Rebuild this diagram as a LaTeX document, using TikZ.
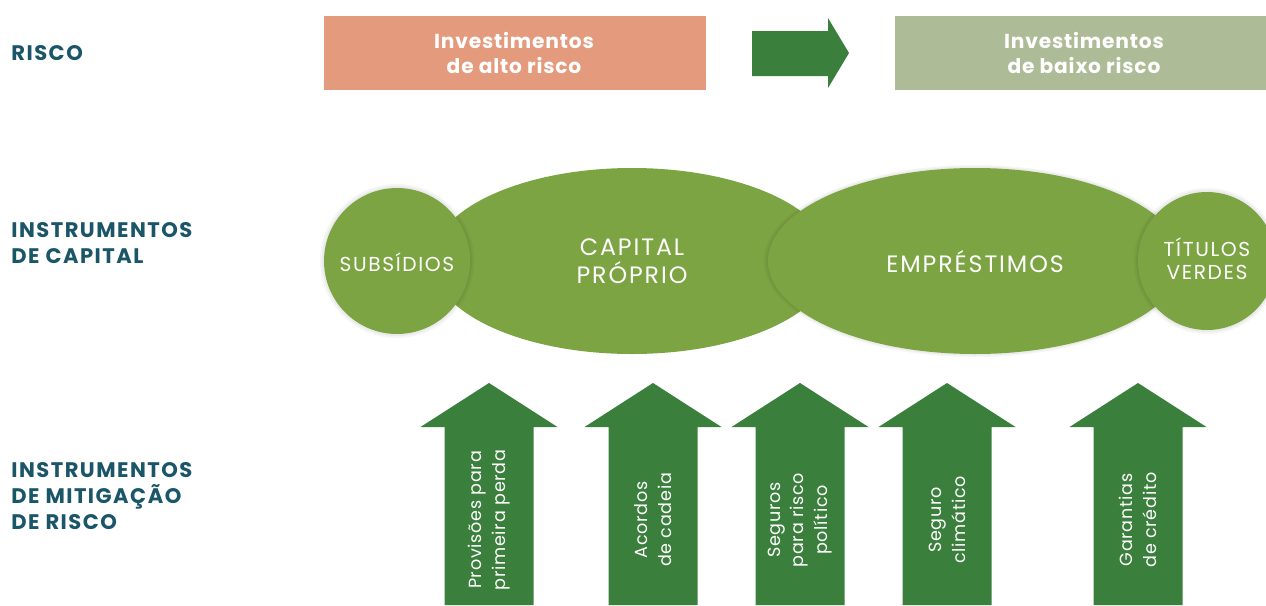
\documentclass[tikz,border=0pt]{standalone}
\usepackage{fontspec}
\usepackage{xcolor}
\usepackage{tikz}
\setmainfont{Poppins}
\newfontfamily\spacedfont[LetterSpace=8]{Poppins}
\newfontfamily\boxfont[LetterSpace=4]{Poppins}
\newfontfamily\headfont[LetterSpace=7]{Poppins}

\definecolor{salmon}{HTML}{E49A7D}
\definecolor{sage}{HTML}{ADBB96}
\definecolor{darkgreen}{HTML}{3B7F3D}
\definecolor{leaf}{HTML}{7CA443}
\definecolor{petrol}{HTML}{1A5668}

\begin{document}
\begin{tikzpicture}[x=0.02cm,y=-0.02cm]
\tikzstyle{every node}+=[inner sep=0pt]
\tikzstyle{rowhead}=[anchor=west, align=left, text=petrol, font=\headfont\bfseries\fontsize{12}{14.7}\selectfont]
\tikzstyle{boxtext}=[align=center, text=white, font=\boxfont\bfseries\fontsize{11.5}{14}\selectfont]
\tikzstyle{ovaltext}=[align=center, text=white, font=\spacedfont\fontsize{13.5}{16}\selectfont]
\tikzstyle{smalloval}=[align=center, text=white, font=\spacedfont\fontsize{11.5}{13}\selectfont]
\tikzstyle{arrowtext}=[align=center, text=white, rotate=90, font=\boxfont\fontsize{10}{13.6}\selectfont]
\tikzstyle{halo}=[fill=black, fill opacity=0.04]
\useasboundingbox (0,0) rectangle (1266,605);

% row titles
\draw (11,53) node[rowhead] (risco) {RISCO};
\draw (11,243) node[rowhead] (capital) {INSTRUMENTOS\\DE CAPITAL};
\draw (11,496) node[rowhead] (mitigacao) {INSTRUMENTOS\\DE MITIGAÇÃO\\DE RISCO};

% risk row
\fill [salmon] (324,16) rectangle (706,90);
\draw (514,53) node[boxtext] (alto) {Investimentos\\de alto risco};
\fill [darkgreen] (752,31) -- (828,31) -- (828,18) -- (849,53) -- (828,88) -- (828,76) -- (752,76) -- cycle;
\fill [sage] (895,16) rectangle (1266,90);
\draw (1084,53) node[boxtext] (baixo) {Investimentos\\de baixo risco};

% capital instruments
\fill [leaf] (632,261) ellipse [x radius=200, y radius=93];
\fill [halo] (975,261) ellipse [x radius=211, y radius=96];
\fill [halo] (975,261) ellipse [x radius=209, y radius=94.5];
\fill [leaf] (975,261) ellipse [x radius=207, y radius=93];
\fill [halo] (397,261) circle (77);
\fill [halo] (397,261) circle (75);
\fill [leaf] (397,261) circle (73);
\fill [halo] (1207,261) circle (73);
\fill [halo] (1207,261) circle (71);
\fill [leaf] (1207,261) circle (69);
\draw (397,262) node[smalloval] (subsidios) {SUBSÍDIOS};
\draw (632,261) node[ovaltext] (proprio) {CAPITAL\\PRÓPRIO};
\draw (975,262) node[ovaltext] (emprestimos) {EMPRÉSTIMOS};
\draw (1207,259) node[smalloval] (titulos) {TÍTULOS\\VERDES};

% risk mitigation instruments
\foreach \x/\name/\txt in {489/provisoes/{Provisões para\\primeira perda},
                           653/acordos/{Acordos\\de cadeia},
                           800/seguros/{Seguros\\para risco\\político},
                           947/clima/{Seguro\\climático},
                           1138/garantias/{Garantias\\de crédito}}
{
\fill [darkgreen] (\x-44.5,605) -- (\x-44.5,427) -- (\x-68.5,427) -- (\x,383)
      -- (\x+68.5,427) -- (\x+44.5,427) -- (\x+44.5,605) -- cycle;
\draw (\x,520) node[arrowtext] (\name) {\txt};
}
\end{tikzpicture}
\end{document}
